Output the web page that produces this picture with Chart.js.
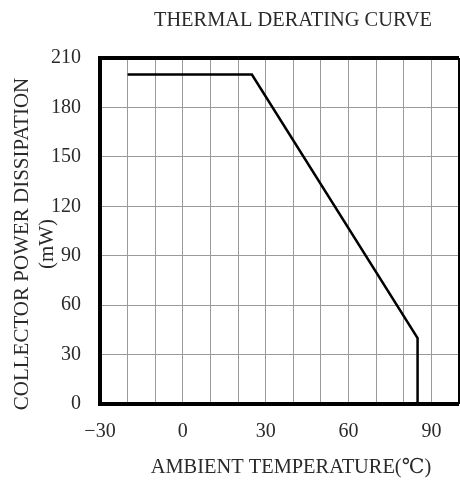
<!DOCTYPE html>
<html lang="en">
<head>
  <meta charset="UTF-8">
  <title>Thermal Derating Curve</title>
  <style>
    body { margin: 0; background: #fff; }
    #wrap { width: 460px; height: 483px; }
  </style>
</head>
<body>
  <div id="wrap"><canvas id="chart"></canvas></div>

  <script src="https://cdn.jsdelivr.net/npm/chart.js"></script>
  <script>
    // Curve data (ambient temperature in deg C, power in mW)
    const tempC = [-20, 25, 85, 85];
    const powerMW = [200, 200, 40, 0];

    // Axis ranges and tick labels
    const xTicks = [-30, 0, 30, 60, 90];
    const yTicks = [0, 30, 60, 90, 120, 150, 180, 210];

    const serif = '"Liberation Serif", "DejaVu Serif", serif';
    const textColor = '#2a2a2a';

    // frame + free-placed titles
    const framePlugin = {
      id: 'frame',
      afterDraw(chart) {
        const { ctx, chartArea: a } = chart;
        ctx.save();
        ctx.strokeStyle = '#000';
        ctx.lineWidth = 4;
        ctx.beginPath();
        ctx.moveTo(a.right, a.top);
        ctx.lineTo(a.left, a.top);
        ctx.lineTo(a.left, a.bottom);
        ctx.lineTo(a.right, a.bottom);
        ctx.stroke();
        ctx.lineWidth = 2;
        ctx.beginPath();
        ctx.moveTo(a.right, a.top);
        ctx.lineTo(a.right, a.bottom);
        ctx.stroke();

        ctx.fillStyle = textColor;
        ctx.textAlign = 'center';
        ctx.textBaseline = 'middle';
        ctx.font = '20.4px ' + serif;
        ctx.fillText('THERMAL DERATING CURVE', 293, 21);
        ctx.fillText('AMBIENT TEMPERATURE(\u2103)', 291, 468);

        ctx.translate(22, 244);
        ctx.rotate(-Math.PI / 2);
        ctx.font = '21px ' + serif;
        ctx.fillText('COLLECTOR POWER DISSIPATION', 0, 0);
        ctx.fillText('(mW)', 0, 25);
        ctx.restore();
      }
    };

    new Chart(document.getElementById('chart'), {
      type: 'scatter',
      data: {
        datasets: [{
          data: tempC.map((t, i) => ({ x: t, y: powerMW[i] })),
          showLine: true,
          borderColor: '#000',
          borderWidth: 2.5,
          pointRadius: 0,
          tension: 0
        }]
      },
      options: {
        responsive: true,
        maintainAspectRatio: false,
        animation: false,
        layout: { padding: { top: 58, right: 1, left: 0, bottom: 0 } },
        plugins: {
          legend: { display: false },
          tooltip: { enabled: false }
        },
        scales: {
          x: {
            type: 'linear',
            min: -30,
            max: 100,
            afterFit(scale) {
              scale.height = 79;
              scale.paddingLeft = 0;
              scale.paddingRight = 0;
            },
            afterBuildTicks(scale) {
              scale.ticks = [];
              for (let v = -30; v <= 100; v += 10) scale.ticks.push({ value: v });
            },
            ticks: {
              autoSkip: false,
              maxRotation: 0,
              padding: 16,
              color: textColor,
              font: { family: serif, size: 20 },
              callback: (v) => xTicks.includes(v) ? String(v).replace('-', '\u2212') : ''
            },
            grid: { color: '#9a9a9a', lineWidth: 1, drawTicks: false },
            border: { display: false }
          },
          y: {
            min: 0,
            max: 210,
            afterFit(scale) {
              scale.width = 100;
              scale.paddingTop = 0;
              scale.paddingBottom = 0;
            },
            afterBuildTicks(scale) {
              scale.ticks = yTicks.map(v => ({ value: v }));
            },
            ticks: {
              padding: 19,
              color: textColor,
              font: { family: serif, size: 20 }
            },
            grid: { color: '#9a9a9a', lineWidth: 1, drawTicks: false },
            border: { display: false }
          }
        }
      },
      plugins: [framePlugin]
    });
  </script>
</body>
</html>
